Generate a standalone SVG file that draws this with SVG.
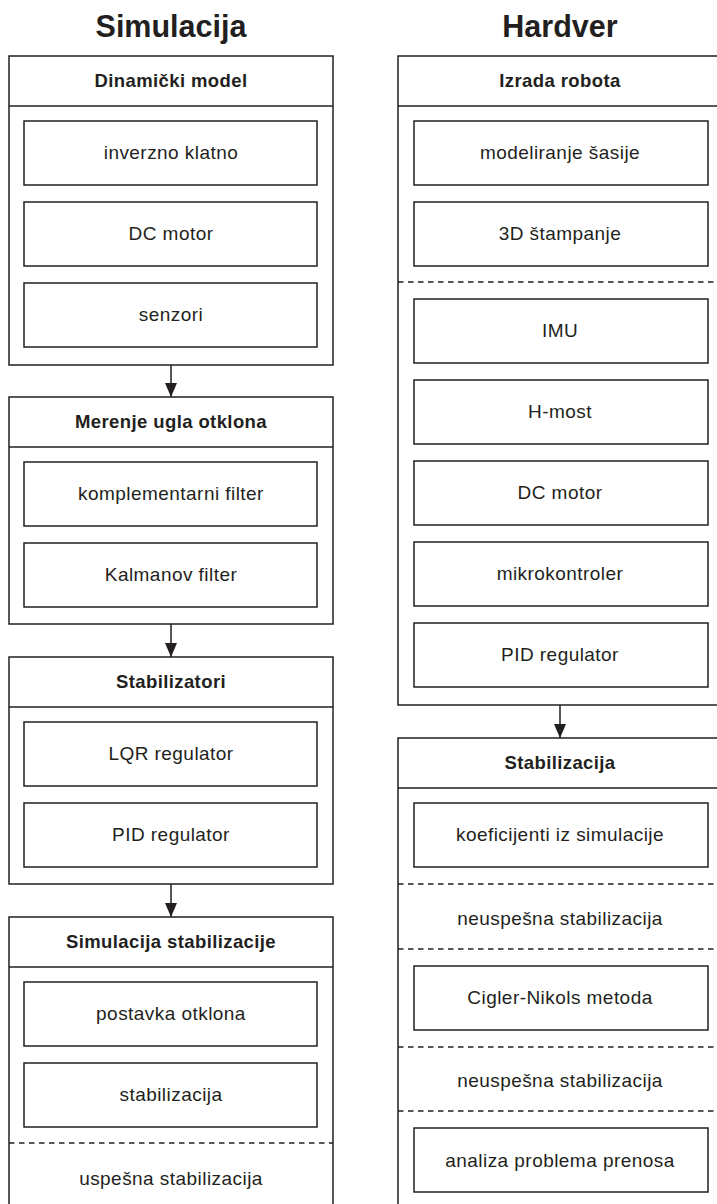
<svg xmlns="http://www.w3.org/2000/svg" width="717" height="1204" viewBox="0 0 717 1204">
<style>
.box{fill:#fff;stroke:#231f20;stroke-width:1.5}
.ln{stroke:#231f20;stroke-width:1.5;fill:none}
.dash{stroke:#231f20;stroke-width:1.3;stroke-dasharray:5.5 4.5;fill:none}
.title{font-family:"Liberation Sans",Arial,sans-serif;font-weight:bold;font-size:30.5px;fill:#231f20;text-anchor:middle}
.hd{font-family:"Liberation Sans",Arial,sans-serif;font-weight:bold;font-size:18.5px;letter-spacing:0.4px;fill:#231f20;text-anchor:middle}
.tx{font-family:"Liberation Sans",Arial,sans-serif;font-size:19px;letter-spacing:0.45px;fill:#231f20;text-anchor:middle}
</style>
<defs>
<marker id="arr" viewBox="0 0 14 12" refX="14" refY="6" markerWidth="14" markerHeight="12" markerUnits="userSpaceOnUse" orient="auto">
<path d="M0,0 L14,6 L0,12 Z" fill="#231f20"/>
</marker>
</defs>
<rect width="717" height="1204" fill="#fff"/>
<text class="title" x="171" y="37">Simulacija</text>
<text class="title" x="560" y="37">Hardver</text>

<g id="dinamicki-model">
<rect class="box" x="9" y="56" width="324" height="309"/>
<line class="ln" x1="9" y1="106" x2="333" y2="106"/>
<text class="hd" x="171" y="87">Dinamički model</text>
<rect class="box" x="24" y="121" width="293" height="64"/>
<text class="tx" x="171" y="159">inverzno klatno</text>
<rect class="box" x="24" y="202" width="293" height="64"/>
<text class="tx" x="171" y="240">DC motor</text>
<rect class="box" x="24" y="283" width="293" height="64"/>
<text class="tx" x="171" y="321">senzori</text>
</g>

<g id="merenje-ugla">
<rect class="box" x="9" y="397" width="324" height="227"/>
<line class="ln" x1="9" y1="447" x2="333" y2="447"/>
<text class="hd" x="171" y="428">Merenje ugla otklona</text>
<rect class="box" x="24" y="462" width="293" height="64"/>
<text class="tx" x="171" y="500">komplementarni filter</text>
<rect class="box" x="24" y="543" width="293" height="64"/>
<text class="tx" x="171" y="581">Kalmanov filter</text>
</g>

<g id="stabilizatori">
<rect class="box" x="9" y="657" width="324" height="227"/>
<line class="ln" x1="9" y1="707" x2="333" y2="707"/>
<text class="hd" x="171" y="688">Stabilizatori</text>
<rect class="box" x="24" y="722" width="293" height="64"/>
<text class="tx" x="171" y="760">LQR regulator</text>
<rect class="box" x="24" y="803" width="293" height="64"/>
<text class="tx" x="171" y="841">PID regulator</text>
</g>

<g id="simulacija-stabilizacije">
<rect class="box" x="9" y="917" width="324" height="295"/>
<line class="ln" x1="9" y1="967" x2="333" y2="967"/>
<text class="hd" x="171" y="948">Simulacija stabilizacije</text>
<rect class="box" x="24" y="982" width="293" height="64"/>
<text class="tx" x="171" y="1020">postavka otklona</text>
<rect class="box" x="24" y="1063" width="293" height="64"/>
<text class="tx" x="171" y="1101">stabilizacija</text>
<line class="dash" x1="9" y1="1143" x2="333" y2="1143"/>
<text class="tx" x="171" y="1185">uspešna stabilizacija</text>
</g>

<g id="izrada-robota">
<rect class="box" x="398" y="56" width="324" height="649"/>
<line class="ln" x1="398" y1="106" x2="722" y2="106"/>
<text class="hd" x="560" y="87">Izrada robota</text>
<rect class="box" x="414" y="121" width="294" height="64"/>
<text class="tx" x="560" y="159">modeliranje šasije</text>
<rect class="box" x="414" y="202" width="294" height="64"/>
<text class="tx" x="560" y="240">3D štampanje</text>
<line class="dash" x1="398" y1="282" x2="722" y2="282"/>
<rect class="box" x="414" y="299" width="294" height="64"/>
<text class="tx" x="560" y="337">IMU</text>
<rect class="box" x="414" y="380" width="294" height="64"/>
<text class="tx" x="560" y="418">H-most</text>
<rect class="box" x="414" y="461" width="294" height="64"/>
<text class="tx" x="560" y="499">DC motor</text>
<rect class="box" x="414" y="542" width="294" height="64"/>
<text class="tx" x="560" y="580">mikrokontroler</text>
<rect class="box" x="414" y="623" width="294" height="64"/>
<text class="tx" x="560" y="661">PID regulator</text>
</g>

<g id="stabilizacija">
<rect class="box" x="398" y="738" width="324" height="474"/>
<line class="ln" x1="398" y1="788" x2="722" y2="788"/>
<text class="hd" x="560" y="769">Stabilizacija</text>
<rect class="box" x="414" y="803" width="294" height="64"/>
<text class="tx" x="560" y="841">koeficijenti iz simulacije</text>
<line class="dash" x1="398" y1="884" x2="722" y2="884"/>
<text class="tx" x="560" y="925">neuspešna stabilizacija</text>
<line class="dash" x1="398" y1="949" x2="722" y2="949"/>
<rect class="box" x="414" y="966" width="294" height="64"/>
<text class="tx" x="560" y="1004">Cigler-Nikols metoda</text>
<line class="dash" x1="398" y1="1047" x2="722" y2="1047"/>
<text class="tx" x="560" y="1087">neuspešna stabilizacija</text>
<line class="dash" x1="398" y1="1111" x2="722" y2="1111"/>
<rect class="box" x="414" y="1128" width="294" height="64"/>
<text class="tx" x="560" y="1167">analiza problema prenosa</text>
</g>

<g id="connectors">
<line class="ln" x1="171" y1="365" x2="171" y2="397" marker-end="url(#arr)"/>
<line class="ln" x1="171" y1="624" x2="171" y2="657" marker-end="url(#arr)"/>
<line class="ln" x1="171" y1="884" x2="171" y2="917" marker-end="url(#arr)"/>
<line class="ln" x1="560" y1="705" x2="560" y2="738" marker-end="url(#arr)"/>
</g>
</svg>
